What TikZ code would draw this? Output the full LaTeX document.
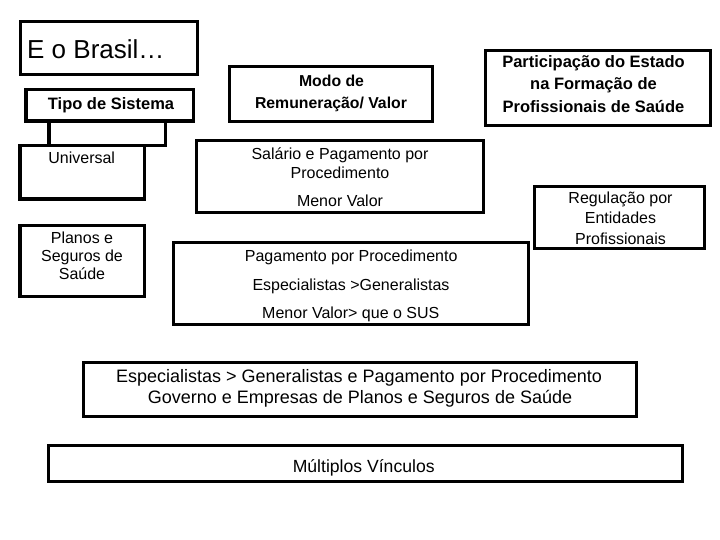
\documentclass[tikz,border=0pt]{standalone}
\usepackage{fontspec}
\setmainfont{Liberation Sans}
\begin{document}
\begin{tikzpicture}[x=1pt,y=-1pt,
  box/.style={draw=black, line width=3.2pt, inner sep=0pt, outer sep=0pt},
  txt/.style={inner sep=0pt, outer sep=0pt, anchor=base, font=\fontsize{16}{18}\selectfont},
  btxt/.style={inner sep=0pt, outer sep=0pt, anchor=base, font=\fontsize{16.5}{19}\selectfont\bfseries},
  mtxt/.style={inner sep=0pt, outer sep=0pt, anchor=base, font=\fontsize{18}{21}\selectfont}]
\useasboundingbox (0,0) rectangle (720,540);
% boxes
\node[box, minimum width=176.6pt, minimum height=52.6pt] (brasil) at (109,48) {};
\node[box, minimum width=116.5pt, minimum height=24.3pt] (link) at (107.25,133.15) {};
\node[box, minimum width=167.3pt, minimum height=31.7pt] (tipo) at (109.65,105.15) {};
\node[box, minimum width=124.2pt, minimum height=53.7pt] (universal) at (82.1,172.15) {};
\node[box, minimum width=124.2pt, minimum height=71pt] (planos) at (82.1,260.8) {};
\node[box, minimum width=202.8pt, minimum height=54.8pt] (modo) at (331,94) {};
\node[box, minimum width=286.8pt, minimum height=71.8pt] (salario) at (340,176.5) {};
\node[box, minimum width=354.8pt, minimum height=81.8pt] (pagamento) at (351,283.5) {};
\node[box, minimum width=224.8pt, minimum height=74.8pt] (particip) at (598,88) {};
\node[box, minimum width=169.8pt, minimum height=61.8pt] (regulacao) at (619.5,217.5) {};
\node[box, minimum width=552.8pt, minimum height=54pt] (especial) at (360,389.3) {};
\node[box, minimum width=633.8pt, minimum height=36pt] (multiplos) at (365.5,463.7) {};
% texts
\node[inner sep=0pt, anchor=base west, font=\fontsize{26}{30}\selectfont] (tbrasil) at (27,58.3) {E o Brasil…};
\node[btxt] (ttipo) at (111,110) {Tipo de Sistema};
\node[txt] (tuniv) at (81.7,164) {Universal};
\node[txt] (tplan1) at (82,243.3) {Planos e};
\node[txt] (tplan2) at (82,261.5) {Seguros de};
\node[txt] (tplan3) at (82,279.5) {Saúde};
\node[btxt, font=\fontsize{15.8}{19}\selectfont\bfseries] (tmodo1) at (331.5,86.7) {Modo de};
\node[btxt, font=\fontsize{15.8}{19}\selectfont\bfseries] (tmodo2) at (331,108.3) {Remuneração/ Valor};
\node[txt] (tsal1) at (340,160) {Salário e Pagamento por};
\node[txt] (tsal2) at (340,178.3) {Procedimento};
\node[txt] (tsal3) at (340,206.7) {Menor Valor};
\node[txt] (tpag1) at (351.2,261.7) {Pagamento por Procedimento};
\node[txt] (tpag2) at (351,290.5) {Especialistas >Generalistas};
\node[txt] (tpag3) at (350.8,318.3) {Menor Valor> que o SUS};
\node[btxt] (tpar1) at (593.5,67.3) {Participação do Estado};
\node[btxt] (tpar2) at (593.5,89.8) {na Formação de};
\node[btxt] (tpar3) at (593.5,112.5) {Profissionais de Saúde};
\node[txt] (treg1) at (620.5,204) {Regulação por};
\node[txt] (treg2) at (620.5,224) {Entidades};
\node[txt] (treg3) at (620.5,244) {Profissionais};
\node[mtxt] (tesp1) at (359,382.3) {Especialistas > Generalistas e Pagamento por Procedimento};
\node[mtxt] (tesp2) at (360,403.3) {Governo e Empresas de Planos e Seguros de Saúde};
\node[mtxt, font=\fontsize{17.6}{21}\selectfont] (tmult) at (363.7,472.3) {Múltiplos Vínculos};
\end{tikzpicture}
\end{document}
